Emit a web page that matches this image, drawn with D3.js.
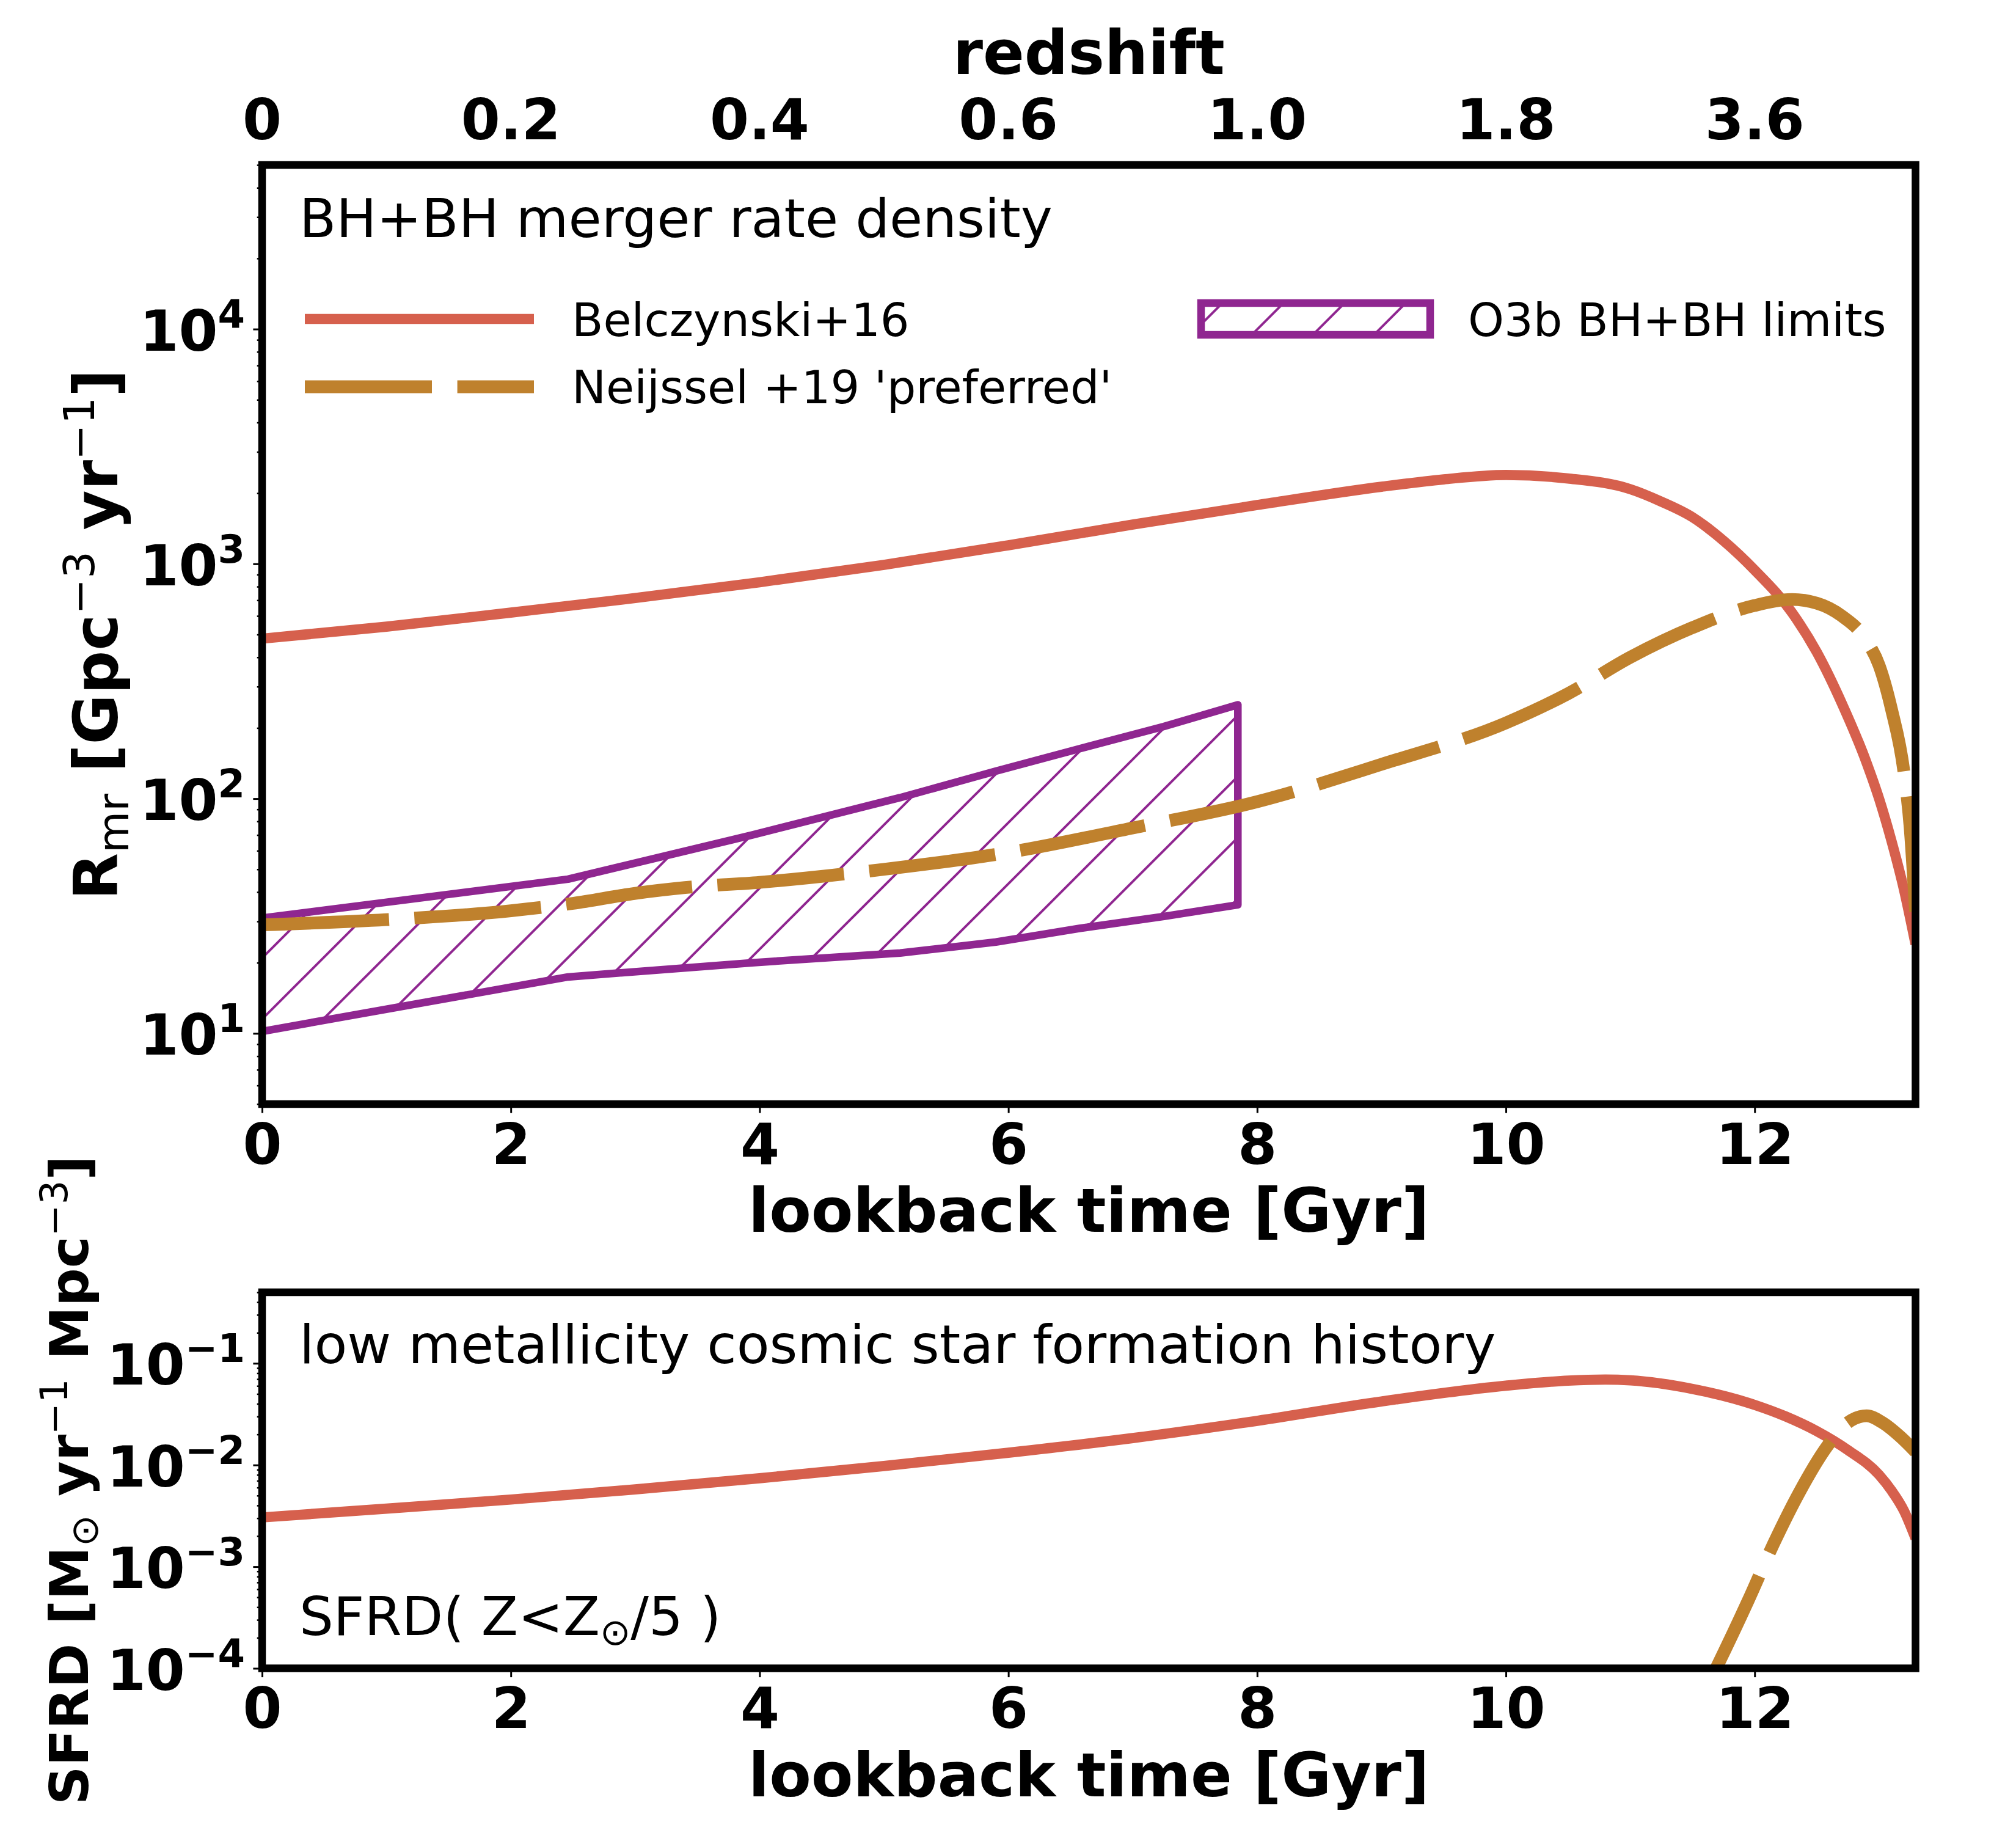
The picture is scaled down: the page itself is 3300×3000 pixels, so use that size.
<!DOCTYPE html>
<html><head><meta charset="utf-8">
<script src="https://cdn.jsdelivr.net/npm/d3@7/dist/d3.min.js"></script>
<style>body{margin:0;background:#fff} svg{display:block} text{white-space:pre}</style>
</head><body>
<script>
// ---------------- data ----------------
const lookbackTicks = [0, 2, 4, 6, 8, 10, 12];
const redshiftTickLabels = ["0", "0.2", "0.4", "0.6", "1.0", "1.8", "3.6"];
const rateTicks = [10, 100, 1000, 10000];
const rateTickExp = ["1", "2", "3", "4"];
const sfrdTicks = [1e-4, 1e-3, 1e-2, 1e-1];
const sfrdTickExp = ["\u22124", "\u22123", "\u22122", "\u22121"];

// BH+BH merger rate density [Gpc^-3 yr^-1] vs lookback time [Gyr]
const belczynskiRateTime = [0, 1, 2, 3, 4, 5, 6, 7, 8, 9, 9.5, 10, 10.5, 11, 11.25, 11.5, 11.75, 12, 12.3, 12.5, 12.7, 12.9, 13.0, 13.1, 13.2, 13.293];
const belczynskiRate     = [480, 540, 620, 715, 835, 990, 1200, 1470, 1780, 2130, 2290, 2390, 2310, 2080, 1840, 1580, 1253, 940, 620, 420, 255, 142, 100, 66, 41, 24];

const neijsselRateTime = [0, 1, 2, 2.5, 3, 3.4, 4, 5, 6, 7, 8, 9, 10, 10.5, 11, 11.5, 12, 12.3, 12.5, 12.7, 12.9, 13.0, 13.1, 13.2, 13.25, 13.293];
const neijsselRate     = [29, 30.5, 33.3, 35.8, 39.5, 41.8, 44, 50, 59, 75, 97, 140, 210, 280, 400, 535, 665, 705, 680, 600, 470, 370, 240, 130, 75, 33];

// O3b BH+BH limits
const o3bTime  = [0, 2.46, 3.94, 5.13, 5.9, 6.57, 7.25, 7.845];
const o3bUpper = [31, 45.4, 70, 101, 131, 163, 203, 251];
const o3bLower = [10.2, 17.4, 20, 22, 24.5, 28, 31.5, 35.3];

// low metallicity SFRD [Msun yr^-1 Mpc^-3]
const belczynskiSfrdTime = [0, 1, 2, 3, 4, 5, 6, 7, 8, 9, 10, 10.5, 10.8, 11, 11.5, 12, 12.25, 12.5, 12.75, 13.0, 13.1, 13.2, 13.293];
const belczynskiSfrd     = [3.05e-3, 3.72e-3, 4.57e-3, 5.75e-3, 7.41e-3, 9.77e-3, 1.32e-2, 1.84e-2, 2.72e-2, 4.22e-2, 6.03e-2, 6.76e-2, 6.92e-2, 6.8e-2, 5.6e-2, 3.9e-2, 3.0e-2, 2.15e-2, 1.4e-2, 8.0e-3, 5.6e-3, 3.55e-3, 1.9e-3];

const neijsselSfrdTime = [11.6, 11.69, 11.95, 12.15, 12.36, 12.57, 12.72, 12.9, 13.03, 13.17, 13.293];
const neijsselSfrd     = [6e-5, 1e-4, 4.7e-4, 1.66e-3, 5.4e-3, 1.45e-2, 2.45e-2, 3.05e-2, 2.6e-2, 1.9e-2, 1.35e-2];

// ---------------- style ----------------
const FONT = "'DejaVu Sans', sans-serif";
const RED = "#d6604d", ORANGE = "#bf812d", PURPLE = "#8f2690";
const W = 3300, H = 3000;
const L = 429, R = 3135.5;
const topT = 270, topB = 1807, botT = 2115, botB = 2730.5;
const SPINE = 12.5, MAJ = 14.6, MIN = 8.3;

const svg = d3.select("body").append("svg")
  .attr("width", W).attr("height", H).attr("viewBox", `0 0 ${W} ${H}`)
  .style("background", "#fff");

const defs = svg.append("defs");
const pat = defs.append("pattern").attr("id", "hatch")
  .attr("patternUnits", "userSpaceOnUse").attr("width", 100).attr("height", 100)
  .attr("patternTransform", "translate(-3,0)");
pat.append("path").attr("d", "M-10,10 L10,-10 M0,100 L100,0 M90,110 L110,90")
  .attr("stroke", PURPLE).attr("stroke-width", 4).attr("fill", "none");
defs.append("clipPath").attr("id", "clipTop").append("rect")
  .attr("x", L).attr("y", topT).attr("width", R - L).attr("height", topB - topT);
defs.append("clipPath").attr("id", "clipBot").append("rect")
  .attr("x", L).attr("y", botT).attr("width", R - L).attr("height", botB - botT);

// ---------------- scales ----------------
const x = d3.scaleLinear().domain([0, 13.293]).range([L, R]);
const yTop = d3.scaleLog().domain([5, 5e4]).range([topB, topT]);
const yBot = d3.scaleLog().domain([1e-4, 0.5]).range([botB, botT]);

function minorTicks(lo, hi) {
  const out = [];
  for (let e = Math.floor(Math.log10(lo)); e <= Math.ceil(Math.log10(hi)); e++) {
    for (let k = 2; k <= 9; k++) {
      const v = k * Math.pow(10, e);
      if (v >= lo * 0.999 && v <= hi * 1.001) out.push(v);
    }
  }
  return out;
}

function styleAxis(g) {
  g.select(".domain").remove();
  g.selectAll("line").attr("stroke", "#000");
  g.selectAll("text").attr("font-family", FONT).attr("font-weight", "bold")
    .attr("font-size", 92).attr("fill", "#000");
}

function xAxis(yPos) {
  const g = svg.append("g").attr("transform", `translate(0,${yPos})`)
    .call(d3.axisBottom(x).tickValues(lookbackTicks).tickSize(MAJ).tickPadding(18).tickFormat(d => String(d)));
  styleAxis(g);
  g.selectAll("line").attr("stroke-width", 3);
}

function yAxis(scale, ticks, exps, lo, hi) {
  const gm = svg.append("g").attr("transform", `translate(${L},0)`)
    .call(d3.axisLeft(scale).tickValues(minorTicks(lo, hi)).tickSize(MIN).tickFormat(""));
  styleAxis(gm);
  gm.selectAll("line").attr("stroke-width", 2.5);
  const g = svg.append("g").attr("transform", `translate(${L},0)`)
    .call(d3.axisLeft(scale).tickValues(ticks).tickSize(MAJ).tickFormat(""));
  styleAxis(g);
  g.selectAll("line").attr("stroke-width", 3);
  const lab = svg.append("g");
  ticks.forEach((v, i) => {
    const t = lab.append("text").attr("x", 401).attr("y", scale(v) + 35)
      .attr("text-anchor", "end").attr("font-family", FONT).attr("font-weight", "bold")
      .attr("font-size", 92).attr("fill", "#000");
    t.append("tspan").text("10");
    t.append("tspan").attr("font-size", 64).attr("dy", -37).text(exps[i]);
  });
}

const lineTop = (xs, ys) => d3.line().x((d, i) => x(xs[i])).y((d, i) => yTop(ys[i])).curve(d3.curveMonotoneX)(xs);
const lineBot = (xs, ys) => d3.line().x((d, i) => x(xs[i])).y((d, i) => yBot(ys[i])).curve(d3.curveMonotoneX)(xs);

// ---------------- top panel ----------------
const gTop = svg.append("g").attr("clip-path", "url(#clipTop)");
const area = d3.area().x((d, i) => x(o3bTime[i])).y0((d, i) => yTop(o3bLower[i])).y1((d, i) => yTop(o3bUpper[i]));
gTop.append("path").attr("d", area(o3bTime)).attr("fill", "url(#hatch)")
  .attr("stroke", PURPLE).attr("stroke-width", 12.5).attr("stroke-linejoin", "round");
gTop.append("path").attr("d", lineTop(belczynskiRateTime, belczynskiRate))
  .attr("fill", "none").attr("stroke", RED).attr("stroke-width", 16.7).attr("stroke-linejoin", "round");
gTop.append("path").attr("d", lineTop(neijsselRateTime, neijsselRate))
  .attr("fill", "none").attr("stroke", ORANGE).attr("stroke-width", 20.8)
  .attr("stroke-dasharray", "208,41.6").attr("stroke-linejoin", "round");

xAxis(topB);
yAxis(yTop, rateTicks, rateTickExp, 5, 5e4);
svg.append("rect").attr("x", L).attr("y", topT).attr("width", R - L).attr("height", topB - topT)
  .attr("fill", "none").attr("stroke", "#000").attr("stroke-width", SPINE);

// redshift (top) labels
lookbackTicks.forEach((t, i) => {
  svg.append("text").attr("x", x(t)).attr("y", 228).attr("text-anchor", "middle")
    .attr("font-family", FONT).attr("font-weight", "bold").attr("font-size", 92).text(redshiftTickLabels[i]);
});
svg.append("text").attr("x", (L + R) / 2).attr("y", 121).attr("text-anchor", "middle")
  .attr("font-family", FONT).attr("font-weight", "bold").attr("font-size", 100).text("redshift");
svg.append("text").attr("x", (L + R) / 2).attr("y", 2016).attr("text-anchor", "middle")
  .attr("font-family", FONT).attr("font-weight", "bold").attr("font-size", 100).text("lookback time [Gyr]");

// top y label
{
  const t = svg.append("text").attr("transform", `translate(192,${(topT + topB) / 2}) rotate(-90)`)
    .attr("text-anchor", "middle").attr("font-family", FONT).attr("font-weight", "bold").attr("font-size", 100);
  t.append("tspan").text("R");
  t.append("tspan").attr("font-size", 70).attr("font-weight", "normal").attr("dy", 18).text("mr");
  t.append("tspan").attr("dy", -18).text(" [Gpc");
  t.append("tspan").attr("font-size", 70).attr("font-weight", "normal").attr("dy", -38).text("\u22123");
  t.append("tspan").attr("dy", 38).text(" yr");
  t.append("tspan").attr("font-size", 70).attr("font-weight", "normal").attr("dy", -38).text("\u22121");
  t.append("tspan").attr("dy", 38).text("]");
}

// annotation + legend
svg.append("text").attr("x", 490).attr("y", 388).attr("font-family", FONT).attr("font-size", 88)
  .text("BH+BH merger rate density");
svg.append("line").attr("x1", 499).attr("x2", 874).attr("y1", 522).attr("y2", 522)
  .attr("stroke", RED).attr("stroke-width", 16.7);
svg.append("line").attr("x1", 499).attr("x2", 874).attr("y1", 633).attr("y2", 633)
  .attr("stroke", ORANGE).attr("stroke-width", 20.8).attr("stroke-dasharray", "208,41.6");
svg.append("rect").attr("x", 1966).attr("y", 496).attr("width", 375).attr("height", 52)
  .attr("fill", "url(#hatch)").attr("stroke", PURPLE).attr("stroke-width", 12.5);
svg.append("text").attr("x", 936).attr("y", 550).attr("font-family", FONT).attr("font-size", 75).text("Belczynski+16");
svg.append("text").attr("x", 936).attr("y", 660).attr("font-family", FONT).attr("font-size", 75).text("Neijssel +19 'preferred'");
svg.append("text").attr("x", 2403).attr("y", 550).attr("font-family", FONT).attr("font-size", 75).text("O3b BH+BH limits");

// ---------------- bottom panel ----------------
const gBot = svg.append("g").attr("clip-path", "url(#clipBot)");
gBot.append("path").attr("d", lineBot(belczynskiSfrdTime, belczynskiSfrd))
  .attr("fill", "none").attr("stroke", RED).attr("stroke-width", 16.7).attr("stroke-linejoin", "round");
gBot.append("path").attr("d", lineBot(neijsselSfrdTime, neijsselSfrd))
  .attr("fill", "none").attr("stroke", ORANGE).attr("stroke-width", 20.8)
  .attr("stroke-dasharray", "208,41.6").attr("stroke-linejoin", "round");

xAxis(botB);
yAxis(yBot, sfrdTicks, sfrdTickExp, 1e-4, 0.5);
svg.append("rect").attr("x", L).attr("y", botT).attr("width", R - L).attr("height", botB - botT)
  .attr("fill", "none").attr("stroke", "#000").attr("stroke-width", SPINE);

svg.append("text").attr("x", (L + R) / 2).attr("y", 2940).attr("text-anchor", "middle")
  .attr("font-family", FONT).attr("font-weight", "bold").attr("font-size", 100).text("lookback time [Gyr]");

svg.append("text").attr("x", 490).attr("y", 2231).attr("font-family", FONT).attr("font-size", 88)
  .text("low metallicity cosmic star formation history");
{
  const t = svg.append("text").attr("x", 490).attr("y", 2676).attr("font-family", FONT).attr("font-size", 88);
  t.append("tspan").text("SFRD( Z<Z");
  t.append("tspan").attr("font-size", 60).attr("dy", 16).text("\u2299");
  t.append("tspan").attr("dy", -16).text("/5 )");
}
{
  const t = svg.append("text").attr("transform", `translate(144,${(botT + botB) / 2}) rotate(-90)`)
    .attr("text-anchor", "middle").attr("font-family", FONT).attr("font-weight", "bold").attr("font-size", 88);
  t.append("tspan").text("SFRD [M");
  t.append("tspan").attr("font-size", 62).attr("font-weight", "normal").attr("dy", 16).text("\u2299");
  t.append("tspan").attr("dy", -16).text(" yr");
  t.append("tspan").attr("font-size", 62).attr("font-weight", "normal").attr("dy", -34).text("\u22121");
  t.append("tspan").attr("dy", 34).text(" Mpc");
  t.append("tspan").attr("font-size", 62).attr("font-weight", "normal").attr("dy", -34).text("\u22123");
  t.append("tspan").attr("dy", 34).text("]");
}
</script>
</body></html>
